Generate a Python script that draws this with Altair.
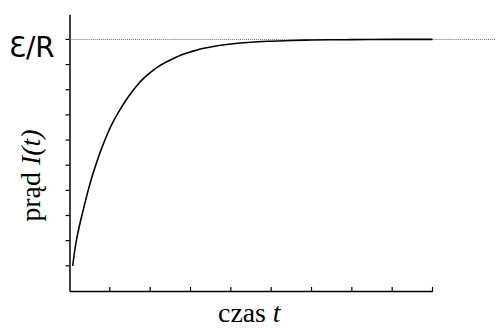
import altair as alt
import pandas as pd

# curve
t_vals = [0.08, 0.12, 0.17, 0.24, 0.31, 0.39, 0.47, 0.56, 0.66, 0.8, 0.95, 1.1, 1.25, 1.4, 1.55, 1.7, 1.85, 2.0, 2.2,
          2.4, 2.6, 2.8, 3.0, 3.2, 3.4, 3.6, 3.8, 4.0, 4.5, 5.0, 5.5, 6.0, 6.5, 7.0, 8.0, 9.0]
i_vals = [1.0, 1.5, 2.0, 2.55, 3.02, 3.54, 4.04, 4.55, 5.05, 5.68, 6.28, 6.78, 7.2, 7.58, 7.92, 8.22, 8.47, 8.68, 8.92,
          9.1, 9.26, 9.4, 9.5, 9.6, 9.67, 9.73, 9.78, 9.82, 9.89, 9.93, 9.96, 9.975, 9.985, 9.99, 10.0, 10.0]
x_ticks = [1, 2, 3, 4, 5, 6, 7, 8, 9]
y_ticks = [1, 2, 3, 4, 5, 6, 7, 8, 9, 10]
limit_value = [10]

curve = pd.DataFrame({"t": t_vals, "I": i_vals})
xt = pd.DataFrame({"t": x_ticks})
yt = pd.DataFrame({"I": y_ticks})
lim = pd.DataFrame({"I": limit_value})

xs = alt.Scale(domain=[0, 9], nice=False)
ys = alt.Scale(domain=[0, 11], nice=False)

line = alt.Chart(curve).mark_line(color="black", strokeWidth=1.6, interpolate="monotone").encode(
    x=alt.X("t:Q", scale=xs, axis=alt.Axis(labels=False, ticks=False, title=None, grid=False,
                                             domainColor="black", domainWidth=1.5)),
    y=alt.Y("I:Q", scale=ys, axis=alt.Axis(labels=False, ticks=False, title=None, grid=False,
                                             domainColor="black", domainWidth=1.5)),
)

xtick = alt.Chart(xt).mark_rule(color="black", strokeWidth=1.2).encode(
    x=alt.X("t:Q", scale=xs), y=alt.value(279), y2=alt.value(275)
)
ytick = alt.Chart(yt).mark_rule(color="black", strokeWidth=1.2).encode(
    y=alt.Y("I:Q", scale=ys), x=alt.value(-4), x2=alt.value(0)
)

dotted = alt.Chart(lim).mark_rule(color="#666666", strokeWidth=1, strokeDash=[1, 1]).encode(
    y=alt.Y("I:Q", scale=ys), x=alt.value(0), x2=alt.value(430)
)

lab_er = alt.Chart(lim).mark_text(text="Ɛ/R", font="DejaVu Sans", fontSize=28, align="right",
                                  baseline="alphabetic", color="black").encode(
    x=alt.value(-15), y=alt.value(43)
)

xt1 = alt.Chart(lim).mark_text(text="czas", font="Liberation Serif", fontSize=28, align="right",
                               baseline="alphabetic", color="black").encode(x=alt.value(198), y=alt.value(310))
xt2 = alt.Chart(lim).mark_text(text="t", font="Liberation Serif", fontSize=28, fontStyle="italic",
                               align="left", baseline="alphabetic", color="black").encode(x=alt.value(205), y=alt.value(310))

yt1 = alt.Chart(lim).mark_text(text="prąd", font="Liberation Serif", fontSize=28, angle=270, align="left",
                               baseline="alphabetic", color="black").encode(x=alt.value(-30), y=alt.value(209))
yt2 = alt.Chart(lim).mark_text(text="I(t)", font="Liberation Serif", fontSize=28, fontStyle="italic", angle=270,
                               align="left", baseline="alphabetic", color="black").encode(x=alt.value(-30), y=alt.value(152))

chart = alt.layer(dotted, line, xtick, ytick, lab_er, xt1, xt2, yt1, yt2).properties(
    width=366, height=279,
    autosize=alt.AutoSizeParams(type="none"),
    padding={"left": 62, "top": 5, "right": 64, "bottom": 35},
    background="white",
).configure_view(stroke=None)

chart.save("out.html", embed_options={"renderer": "svg", "actions": False})
